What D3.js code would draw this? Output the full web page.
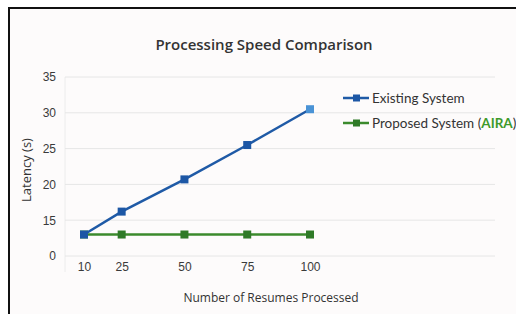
<!DOCTYPE html>
<html>
<head>
<meta charset="utf-8">
<script src="https://cdn.jsdelivr.net/npm/d3@7"></script>
<style>
  html, body { margin: 0; padding: 0; background: #ffffff; }
  svg { display: block; font-family: "Open Sans", "Noto Sans", sans-serif; }
</style>
</head>
<body>
<div id="chart"></div>
<script>
// data
const resumes = [10, 25, 50, 75, 100];
const existingLatency = [13, 16.2, 20.7, 25.5, 30.5];
const proposedLatency = [13, 13, 13, 13, 13];
const yTickValues = [10, 15, 20, 25, 30, 35];
const yTickLabels = ["0", "15", "20", "25", "30", "35"];
const seriesNames = ["Existing System", "Proposed System"];

const width = 516, height = 314;

const svg = d3.select("#chart").append("svg")
  .attr("width", width)
  .attr("height", height);

// panel + frame
svg.append("rect")
  .attr("x", 9).attr("y", 8)
  .attr("width", width - 9).attr("height", height - 8)
  .attr("fill", "#fdfbfb");
svg.append("path")
  .attr("d", "M9," + height + "V8H" + width)
  .attr("fill", "none")
  .attr("stroke", "#111")
  .attr("stroke-width", 2);

const x = d3.scaleLinear().domain([10, 100]).range([84, 310]);
const y = d3.scaleLinear().domain([10, 35]).range([256, 77]);

const plotLeft = 65, plotRight = 495;

// faint left edge of plot
svg.append("line")
  .attr("x1", plotLeft).attr("x2", plotLeft)
  .attr("y1", y(35)).attr("y2", 272)
  .attr("stroke", "#ececec");

// grid
const yAxis = d3.axisLeft(y)
  .tickValues(yTickValues)
  .tickFormat((d, i) => yTickLabels[i])
  .tickSize(0)
  .tickPadding(9);

const gy = svg.append("g")
  .attr("transform", "translate(" + plotLeft + ",0)")
  .call(yAxis);
gy.select(".domain").remove();
gy.selectAll("text")
  .attr("fill", "#3a3a3a")
  .style("font-size", "12px");

svg.append("g").selectAll("line")
  .data(yTickValues)
  .enter().append("line")
  .attr("x1", plotLeft).attr("x2", plotRight)
  .attr("y1", d => y(d)).attr("y2", d => y(d))
  .attr("stroke", "#e6e6e6")
  .attr("stroke-width", 1);

const xAxis = d3.axisBottom(x)
  .tickValues(resumes)
  .tickSize(0)
  .tickPadding(0);

const gx = svg.append("g")
  .attr("transform", "translate(0,262)")
  .call(xAxis);
gx.select(".domain").remove();
gx.selectAll("text")
  .attr("fill", "#3a3a3a")
  .style("font-size", "12px");

// titles
svg.append("text")
  .attr("x", 264).attr("y", 50)
  .attr("text-anchor", "middle")
  .attr("fill", "#333")
  .style("font-size", "15px")
  .style("font-weight", 600)
  .text("Processing Speed Comparison");

svg.append("text")
  .attr("x", 271).attr("y", 302)
  .attr("text-anchor", "middle")
  .attr("fill", "#333")
  .style("font-size", "12px")
  .text("Number of Resumes Processed");

svg.append("text")
  .attr("transform", "translate(31,170) rotate(-90)")
  .attr("text-anchor", "middle")
  .attr("fill", "#333")
  .style("font-size", "13px")
  .text("Latency (s)");

// lines
const series = [
  { name: seriesNames[0], values: existingLatency, color: "#1f5aa6", marker: "#1d57a5", last: "#4a93d6" },
  { name: seriesNames[1], values: proposedLatency, color: "#3b8a2c", marker: "#2f7a27", first: "#4b9a3a" }
];

const line = d3.line()
  .x((d, i) => x(resumes[i]))
  .y(d => y(d));

// draw green first so blue sits on top at the shared start
[series[1], series[0]].forEach(s => {
  svg.append("path")
    .attr("d", line(s.values))
    .attr("fill", "none")
    .attr("stroke", s.color)
    .attr("stroke-width", 2.5);

  svg.append("g").selectAll("rect")
    .data(s.values)
    .enter().append("rect")
    .attr("x", (d, i) => x(resumes[i]) - 4)
    .attr("y", d => y(d) - 4)
    .attr("width", 8).attr("height", 8)
    .attr("fill", (d, i) => {
      if (s.last && i === s.values.length - 1) return s.last;
      if (s.first && i === 0) return s.first;
      return s.marker;
    });
});

// legend
const legend = svg.append("g").attr("transform", "translate(343,98)");
series.forEach((s, i) => {
  const g = legend.append("g").attr("transform", "translate(0," + i * 25 + ")");
  g.append("line")
    .attr("x1", 0).attr("x2", 26)
    .attr("stroke", s.color).attr("stroke-width", 2.5);
  g.append("rect")
    .attr("x", 10).attr("y", -3.5)
    .attr("width", 7).attr("height", 7)
    .attr("fill", s.marker);
  const t = g.append("text")
    .attr("x", 29).attr("y", 4.5)
    .attr("fill", "#333")
    .style("font-family", "Lato, sans-serif")
    .style("font-size", "13.5px")
    .text(s.name);
  if (i === 1) {
    t.append("tspan").text(" (");
    t.append("tspan").attr("fill", "#3e9a2a").style("font-weight", 700).text("AIRA");
    t.append("tspan").text(")");
  }
});
</script>
</body>
</html>
